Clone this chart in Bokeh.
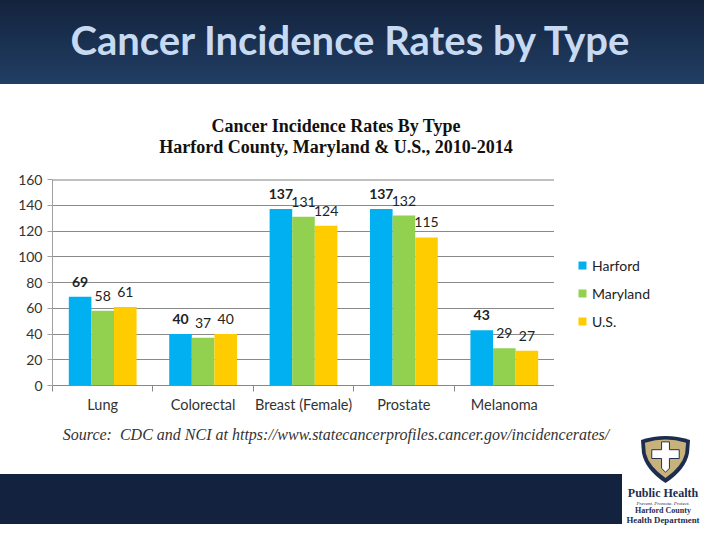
from bokeh.plotting import figure
from bokeh.models import (Range1d, FixedTicker, Legend, LegendItem, ColumnDataSource, Div, Span)
from bokeh.layouts import column, row
from bokeh.transform import dodge
from bokeh.core.properties import value
from bokeh.embed import file_html
from bokeh.resources import INLINE

# ---------------- data ----------------
categories = ["Lung", "Colorectal", "Breast (Female)", "Prostate", "Melanoma"]
harford = [69, 40, 137, 137, 43]
maryland = [58, 37, 131, 132, 29]
us = [61, 40, 124, 115, 27]
series_names = ["Harford", "Maryland", "U.S."]
series_colors = ["#00B0F0", "#92D050", "#FFCC00"]
y_ticks = [0, 20, 40, 60, 80, 100, 120, 140, 160]

slide_title = "Cancer Incidence Rates by Type"
chart_title_1 = "Cancer Incidence Rates By Type"
chart_title_2 = "Harford County, Maryland &amp; U.S., 2010-2014"
source_note = "Source:&nbsp; CDC and NCI at https://www.statecancerprofiles.cancer.gov/incidencerates/"
logo_lines = ["Public Health", "Prevent. Promote. Protect.", "Harford County", "Health Department"]

W = 704
HEADER_H = 84
TITLES_H = 78
CHART_H = 262
SOURCE_H = 50
FOOTER_H = 50
CHART_W = 554
LEG_W = W - CHART_W
TEXT_CX = 336          # horizontal centre of the chart titles / source note
FONT = "Lato"
NAVY = "#13233f"

# ---------------- header band ----------------
header = Div(
    text=('<div style="position:relative;width:%dpx;height:%dpx;'
          'background:linear-gradient(#13233d,#213e64);overflow:hidden;">'
          '<div style="position:absolute;left:0;top:16px;width:700px;text-align:center;'
          'font-family:Lato;font-weight:bold;font-size:40px;line-height:48px;'
          'color:#c8daf2;white-space:nowrap;">%s</div></div>') % (W, HEADER_H, slide_title),
    width=W, height=HEADER_H, margin=0)

# ---------------- chart titles ----------------
titles = Div(
    text=('<div style="position:relative;width:%dpx;height:%dpx;background:#ffffff;">'
          '<div style="position:absolute;left:0;top:32px;width:%dpx;text-align:center;'
          'font-family:\'Liberation Serif\';font-weight:bold;font-size:18px;line-height:21.4px;'
          'color:#111111;white-space:nowrap;">%s<br>%s</div></div>')
         % (W, TITLES_H, 2 * TEXT_CX, chart_title_1, chart_title_2),
    width=W, height=TITLES_H, margin=0)

# ---------------- main chart ----------------
p = figure(width=CHART_W, height=CHART_H, x_range=Range1d(0, len(categories)),
           y_range=Range1d(0, 160), output_backend="svg", toolbar_location=None, title=None,
           min_border_left=52, min_border_right=0, min_border_top=17, min_border_bottom=39)
p.outline_line_color = None
p.background_fill_color = "white"
p.border_fill_color = "white"

src = ColumnDataSource(dict(
    x=[i + 0.5 for i in range(len(categories))],
    harford=harford, maryland=maryland, us=us,
    harford_t=[str(v) for v in harford],
    maryland_t=[str(v) for v in maryland],
    us_t=[str(v) for v in us],
))

cols = ["harford", "maryland", "us"]
offsets = [-0.225, 0.0, 0.225]
bar_w = 0.225
for name, col, color, off in zip(series_names, cols, series_colors, offsets):
    p.vbar(x=dodge("x", off), top=col, width=bar_w, source=src,
           fill_color=color, line_color=None)
    p.text(x=dodge("x", off), y=col, text=col + "_t", source=src,
           text_align="center", text_baseline="middle", y_offset=-15,
           text_font=value(FONT), text_font_size="14px",
           text_font_style="bold" if col == "harford" else "normal",
           text_color="#222222")

# axes
p.yaxis.ticker = FixedTicker(ticks=y_ticks)
p.yaxis.axis_line_color = "#a0a0a0"
p.yaxis.major_tick_line_color = "#a0a0a0"
p.yaxis.major_tick_out = 5
p.yaxis.major_tick_in = 0
p.yaxis.minor_tick_line_color = None
p.yaxis.major_label_text_font = FONT
p.yaxis.major_label_text_font_size = "14px"
p.yaxis.major_label_text_color = "#333333"
p.yaxis.major_label_standoff = 5

p.ygrid.ticker = FixedTicker(ticks=y_ticks)
p.ygrid.grid_line_color = "#8a8a8a"
p.xgrid.visible = False
# heavier top rule of the plot area
p.add_layout(Span(location=y_ticks[-1], dimension="width", line_color="#808080", line_width=2))

p.xaxis.ticker = FixedTicker(ticks=[i + 0.5 for i in range(len(categories))],
                             minor_ticks=list(range(len(categories) + 1)))
p.xaxis.major_label_overrides = {i + 0.5: c for i, c in enumerate(categories)}
p.xaxis.major_tick_line_color = None
p.xaxis.major_tick_out = 0
p.xaxis.major_tick_in = 0
p.xaxis.minor_tick_out = 6
p.xaxis.minor_tick_in = 0
p.xaxis.minor_tick_line_color = "#888888"
p.xaxis.axis_line_color = "#888888"
p.xaxis.major_label_standoff = 4
p.xaxis.major_label_text_font = FONT
p.xaxis.major_label_text_font_size = "14.5px"
p.xaxis.major_label_text_color = "#333333"

# ---------------- legend panel (own figure, same plot-area height) ----------------
leg = figure(width=LEG_W, height=CHART_H, x_range=Range1d(-1, 0), y_range=Range1d(0, 1),
             output_backend="svg", toolbar_location=None, title=None,
             x_axis_location=None, y_axis_location=None,
             min_border_left=0, min_border_right=0, min_border_top=17, min_border_bottom=39)
leg.outline_line_color = None
leg.xgrid.visible = False
leg.ygrid.visible = False
leg.background_fill_color = "white"
leg.border_fill_color = "white"
items = []
for name, col, color in zip(series_names, cols, series_colors):
    # zero-height bars outside this panel's ranges: they only carry the legend swatch style
    r = leg.vbar(x="x", bottom=col, top=col, width=0.1, source=src,
                 fill_color=color, line_color=None)
    items.append(LegendItem(label=name, renderers=[r], index=0))
legend = Legend(items=items, location=(23, 54), glyph_width=10, glyph_height=10,
                label_text_font=FONT, label_text_font_size="14px", label_text_color="#222222",
                label_height=20, spacing=8, label_standoff=5, padding=0, margin=0,
                border_line_color=None, background_fill_alpha=0)
leg.add_layout(legend)

# ---------------- source note ----------------
source_div = Div(
    text=('<div style="position:relative;width:%dpx;height:%dpx;background:#ffffff;">'
          '<div style="position:absolute;left:0;top:1px;width:%dpx;text-align:center;'
          'font-family:\'Liberation Serif\';font-style:italic;font-size:16px;line-height:19px;'
          'color:#333333;white-space:nowrap;">%s</div></div>') % (W, SOURCE_H, 2 * TEXT_CX, source_note),
    width=W, height=SOURCE_H, margin=0)

# ---------------- footer band with logo ----------------
shield_svg = (
    '<svg style="position:absolute;left:640px;top:-39px;overflow:visible" width="51" height="48" '
    'viewBox="0 0 52 49" preserveAspectRatio="none">'
    '<path d="M1,5 Q26,-3 51,5 L50,18 Q47,35 26,49 Q5,35 2,18 Z" fill="#1d2d50"/>'
    '<path d="M5,8 Q26,1 47,8 L46,19 Q43,32 26,44 Q9,32 6,19 Z" fill="#c8b27c"/>'
    '<path d="M22,7 L30,7 L30,15 L40,15 L40,24 L30,24 L30,34 L26,38 L22,34 L22,24 L12,24 '
    'L12,15 L22,15 Z" fill="#ffffff" stroke="#1d2d50" stroke-width="1"/>'
    '</svg>')
logo_text = ''.join(
    '<div style="position:absolute;left:622px;top:%spx;width:82px;text-align:center;'
    'font-family:\'Liberation Serif\';font-weight:bold;font-size:%s;line-height:%s;'
    'color:#1d2d50;white-space:nowrap;%s">%s</div>' % (top, fs, lh, extra, txt)
    for txt, top, fs, lh, extra in [
        (logo_lines[0], 13.4, "12px", "13px", ""),
        (logo_lines[1], 26.5, "5px", "5px", "font-style:italic;font-weight:normal;"),
        (logo_lines[2], 33.2, "8px", "8.3px", ""),
        (logo_lines[3], 41.6, "8.8px", "8.3px", ""),
    ])
footer = Div(
    text=('<div style="position:relative;width:%dpx;height:%dpx;background:%s;overflow:visible;">'
          '<div style="position:absolute;left:622px;top:-2px;width:82px;height:%dpx;background:#ffffff;"></div>'
          '%s%s</div>') % (W, FOOTER_H, NAVY, FOOTER_H + 2, shield_svg, logo_text),
    width=W, height=FOOTER_H, margin=0, styles={"overflow": "visible"})

layout = column(header, titles, row(p, leg, spacing=0), source_div, footer, spacing=0)
open("out.html", "w").write(file_html(layout, INLINE))
